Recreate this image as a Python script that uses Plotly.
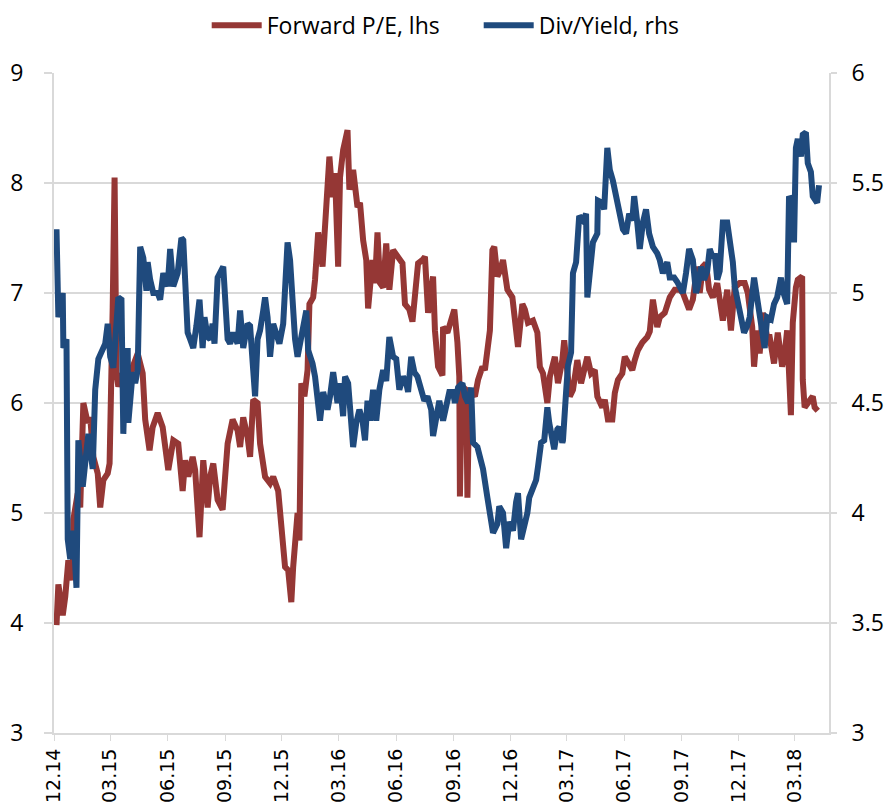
import pandas as pd
import plotly.graph_objects as go

start_date = "2014-12-05"

# Forward P/E (left axis): day offsets from start_date and values
pe_days = [0, 3, 10, 14, 19, 26, 27, 34, 38, 43, 50, 54, 59, 66, 70, 75, 82, 85, 90, 93,
           96, 99, 106, 114, 122, 130, 138, 142, 149, 154, 162, 170, 179, 187, 195, 202, 206, 211, 218, 222,
           229, 235, 242, 246, 251, 258, 266, 274, 282, 290, 294, 299, 306, 310, 315, 322, 326, 334, 342, 347,
           355, 362, 366, 371, 376, 379, 386, 389, 392, 397, 402, 405, 411, 414, 419, 426, 430, 437, 442, 446,
           451, 454, 459, 466, 469, 475, 482, 486, 491, 496, 499, 506, 510, 514, 518, 523, 528, 533, 539, 546,
           554, 558, 565, 570, 574, 579, 586, 590, 595, 603, 606, 611, 618, 619, 626, 630, 637, 642, 645, 646,
           649, 656, 658, 661, 670, 675, 682, 686, 690, 694, 698, 701, 706, 710, 715, 722, 730, 734, 739, 746,
           750, 755, 763, 770, 774, 779, 786, 790, 798, 803, 810, 813, 818, 822, 827, 834, 840, 845, 850, 856,
           862, 866, 874, 878, 883, 890, 894, 899, 906, 910, 915, 922, 926, 931, 938, 946, 950, 955, 962, 966,
           974, 982, 990, 998, 1003, 1010, 1013, 1019, 1026, 1030, 1035, 1040, 1045, 1051, 1058, 1062, 1067, 1074, 1080, 1086,
           1094, 1102, 1107, 1114, 1117, 1122, 1126, 1131, 1138, 1142, 1149, 1155, 1162, 1166, 1170, 1176, 1179, 1184, 1187, 1194,
           1195, 1198, 1203, 1211, 1214, 1219]
pe_values = [3.98, 4.35, 4.07, 4.24, 4.57, 4.39, 4.94, 5.18, 5.05, 6.00, 5.82, 5.87, 5.51, 5.36, 5.05, 5.30, 5.36, 5.45, 6.87, 8.05,
             6.27, 6.15, 6.27, 6.09, 6.33, 6.45, 6.27, 5.85, 5.57, 5.78, 5.91, 5.78, 5.39, 5.66, 5.63, 5.20, 5.48, 5.33, 5.51, 5.39,
             4.78, 5.48, 5.05, 5.33, 5.45, 5.12, 5.03, 5.63, 5.85, 5.75, 5.60, 5.87, 5.69, 5.51, 6.03, 6.00, 5.63, 5.33, 5.27, 5.33,
             5.20, 4.82, 4.51, 4.48, 4.19, 4.51, 5.00, 4.75, 6.18, 6.06, 6.30, 6.90, 6.96, 7.12, 7.55, 7.24, 7.64, 8.24, 7.87, 8.09,
             7.24, 8.05, 8.30, 8.48, 7.94, 8.12, 7.78, 7.82, 7.48, 7.30, 6.86, 7.30, 7.09, 7.55, 7.09, 7.05, 7.45, 7.03, 7.39, 7.33,
             7.27, 6.90, 6.85, 6.74, 7.00, 7.27, 7.30, 7.33, 6.82, 7.15, 6.66, 6.33, 6.25, 6.69, 6.64, 6.73, 6.85, 6.55, 6.24, 5.15,
             6.15, 6.12, 5.14, 6.12, 6.06, 6.21, 6.33, 6.30, 6.55, 6.66, 7.39, 7.42, 7.15, 7.20, 7.30, 7.03, 6.96, 6.75, 6.51, 6.90,
             6.85, 6.73, 6.75, 6.64, 6.33, 6.27, 6.00, 6.24, 6.42, 6.18, 6.39, 6.57, 6.21, 6.06, 6.12, 6.39, 6.18, 6.33, 6.42, 6.27,
             6.30, 6.06, 5.96, 6.03, 5.85, 5.85, 6.09, 6.21, 6.27, 6.42, 6.36, 6.30, 6.39, 6.48, 6.55, 6.60, 6.65, 6.94, 6.69, 6.78,
             6.82, 6.96, 7.03, 7.03, 7.00, 6.90, 6.85, 6.94, 7.24, 7.00, 7.24, 7.27, 7.03, 6.96, 7.09, 6.94, 6.75, 7.03, 6.66, 7.05,
             7.09, 7.09, 7.00, 6.69, 6.33, 6.66, 6.45, 6.82, 6.60, 6.60, 6.36, 6.64, 6.33, 6.45, 6.66, 5.89, 6.73, 7.05, 7.12, 7.15,
             6.21, 5.96, 6.00, 6.06, 5.96, 5.93]

# Dividend yield (right axis): day offsets from start_date and values
dy_days = [0, 3, 10, 11, 16, 18, 22, 27, 32, 35, 42, 46, 51, 58, 62, 67, 74, 78, 82, 86,
           91, 96, 99, 104, 107, 110, 114, 115, 122, 126, 130, 134, 139, 144, 146, 150, 155, 162, 166, 171,
           178, 182, 187, 194, 200, 203, 206, 210, 214, 219, 224, 229, 234, 237, 242, 246, 250, 253, 258, 262,
           267, 274, 278, 283, 290, 294, 299, 306, 310, 315, 318, 322, 326, 331, 334, 338, 342, 347, 352, 357,
           363, 366, 370, 374, 379, 382, 386, 390, 395, 400, 403, 410, 414, 418, 422, 427, 434, 438, 443, 450,
           454, 459, 462, 467, 470, 475, 480, 485, 490, 494, 498, 502, 507, 512, 517, 523, 528, 533, 539, 544,
           549, 555, 560, 563, 568, 573, 578, 584, 589, 594, 600, 603, 608, 613, 619, 624, 629, 635, 638, 643,
           650, 654, 659, 664, 667, 674, 678, 683, 690, 694, 699, 706, 709, 715, 720, 725, 731, 736, 739, 744,
           749, 754, 757, 763, 768, 771, 776, 781, 786, 789, 794, 797, 802, 805, 810, 811, 816, 819, 824, 827,
           832, 837, 843, 848, 850, 856, 859, 866, 867, 874, 877, 882, 886, 891, 896, 901, 907, 912, 917, 922,
           925, 930, 934, 939, 944, 949, 955, 962, 966, 971, 978, 982, 989, 994, 1000, 1003, 1008, 1013, 1019, 1024,
           1027, 1032, 1037, 1042, 1046, 1051, 1054, 1058, 1062, 1067, 1074, 1078, 1083, 1086, 1090, 1096, 1101, 1106, 1110, 1117,
           1122, 1125, 1130, 1134, 1138, 1144, 1149, 1154, 1160, 1163, 1170, 1173, 1179, 1181, 1184, 1187, 1192, 1195, 1200, 1203,
           1208, 1211, 1218, 1221]
dy_values = [5.29, 4.89, 5.00, 4.75, 4.79, 3.88, 3.79, 3.92, 3.66, 4.33, 4.12, 4.24, 4.36, 4.20, 4.56, 4.70, 4.75, 4.77, 4.86, 4.71,
             4.66, 4.85, 4.98, 4.97, 4.36, 4.64, 4.75, 4.41, 4.64, 4.59, 4.65, 5.21, 5.16, 5.01, 5.14, 5.06, 5.00, 5.00, 4.97, 5.09,
             5.03, 5.20, 5.03, 5.09, 5.25, 5.24, 5.01, 4.82, 4.79, 4.75, 4.85, 4.97, 4.75, 4.89, 4.80, 4.79, 4.86, 4.77, 5.07, 5.09,
             5.12, 4.79, 4.77, 4.82, 4.77, 4.92, 4.75, 4.86, 4.85, 4.65, 4.53, 4.79, 4.83, 4.92, 4.98, 4.89, 4.71, 4.86, 4.82, 4.77,
             4.86, 5.01, 5.23, 5.15, 4.92, 4.79, 4.71, 4.77, 4.86, 4.92, 4.74, 4.68, 4.62, 4.51, 4.42, 4.55, 4.47, 4.53, 4.64, 4.50,
             4.59, 4.44, 4.62, 4.59, 4.47, 4.30, 4.41, 4.47, 4.42, 4.33, 4.51, 4.42, 4.56, 4.42, 4.56, 4.65, 4.60, 4.80, 4.71, 4.70,
             4.56, 4.62, 4.59, 4.55, 4.71, 4.64, 4.62, 4.56, 4.51, 4.53, 4.47, 4.35, 4.45, 4.51, 4.42, 4.50, 4.55, 4.55, 4.50, 4.57,
             4.59, 4.53, 4.50, 4.57, 4.32, 4.30, 4.25, 4.20, 4.07, 4.01, 3.91, 3.95, 4.03, 4.00, 3.84, 3.96, 3.92, 4.05, 4.09, 3.88,
             3.94, 4.00, 4.07, 4.12, 4.15, 4.21, 4.32, 4.33, 4.48, 4.41, 4.32, 4.29, 4.38, 4.39, 4.32, 4.33, 4.55, 4.67, 4.73, 5.09,
             5.14, 5.35, 5.33, 5.36, 4.98, 5.12, 5.23, 5.27, 5.42, 5.41, 5.38, 5.66, 5.56, 5.51, 5.45, 5.38, 5.29, 5.27, 5.36, 5.33,
             5.44, 5.32, 5.20, 5.32, 5.38, 5.27, 5.21, 5.18, 5.15, 5.09, 5.14, 5.07, 5.07, 5.05, 5.01, 5.00, 5.09, 5.20, 5.15, 5.00,
             5.03, 5.12, 5.06, 5.10, 5.20, 5.16, 5.18, 5.06, 5.10, 5.32, 5.32, 5.25, 5.14, 5.03, 4.97, 4.88, 4.82, 4.85, 4.89, 5.07,
             4.98, 4.94, 4.86, 4.75, 4.89, 4.88, 4.95, 4.98, 5.07, 5.01, 4.95, 5.44, 5.41, 5.23, 5.66, 5.70, 5.62, 5.72, 5.73, 5.59,
             5.55, 5.44, 5.41, 5.49]

tick_dates = ["2014-12-01", "2015-03-01", "2015-06-01", "2015-09-01", "2015-12-01", "2016-03-01",
              "2016-06-01", "2016-09-01", "2016-12-01", "2017-03-01", "2017-06-01", "2017-09-01",
              "2017-12-01", "2018-03-01"]
tick_labels = ["12.14", "03.15", "06.15", "09.15", "12.15", "03.16", "06.16", "09.16",
               "12.16", "03.17", "06.17", "09.17", "12.17", "03.18"]

t0 = pd.Timestamp(start_date)
pe_dates = [t0 + pd.Timedelta(days=d) for d in pe_days]
dy_dates = [t0 + pd.Timedelta(days=d) for d in dy_days]

RED = "#953735"
BLUE = "#1F4A7D"
GRID = "#d9d9d9"
FONT = "Open Sans, sans-serif"

fig = go.Figure()
fig.add_trace(go.Scatter(x=pe_dates, y=pe_values, mode="lines", name="Forward P/E, lhs",
                         line=dict(color=RED, width=6), yaxis="y"))
fig.add_trace(go.Scatter(x=dy_dates, y=dy_values, mode="lines", name="Div/Yield, rhs",
                         line=dict(color=BLUE, width=6), yaxis="y2"))

fig.update_layout(
    width=886, height=803,
    margin=dict(l=46, r=65, t=65, b=78, autoexpand=False),
    paper_bgcolor="white", plot_bgcolor="white",
    font=dict(family=FONT, size=23, color="#000000"),
    showlegend=True,
    legend=dict(orientation="h", x=0.548, xanchor="center", y=1.105, yanchor="top",
                font=dict(size=23), itemwidth=50, entrywidth=207, borderwidth=0,
                bgcolor="rgba(0,0,0,0)"),
    xaxis=dict(
        type="date", automargin=False,
        range=["2014-12-01", "2018-04-25"],
        tickmode="array", tickvals=tick_dates, ticktext=tick_labels,
        tickangle=-90, tickfont=dict(size=19, family="DejaVu Sans, sans-serif"),
        ticks="outside", ticklen=6, tickcolor=GRID,
        showgrid=False, showline=True, linecolor=GRID, linewidth=2,
        zeroline=False, mirror=False,
    ),
    yaxis=dict(
        range=[3, 9], tickvals=[3, 4, 5, 6, 7, 8, 9], automargin=False,
        showgrid=True, gridcolor=GRID, gridwidth=2,
        ticks="outside", ticklen=8, tickcolor=GRID, tickwidth=2,
        showline=True, linecolor=GRID, linewidth=2,
        zeroline=False, ticklabelstandoff=16,
    ),
    yaxis2=dict(
        range=[3, 6], tickvals=[3, 3.5, 4, 4.5, 5, 5.5, 6], automargin=False,
        overlaying="y", side="right",
        showgrid=False, ticks="outside", ticklen=6, tickcolor=GRID, tickwidth=2,
        showline=True, linecolor=GRID, linewidth=2,
        zeroline=False, ticklabelstandoff=10,
    ),
)

fig.write_html("out.html")
